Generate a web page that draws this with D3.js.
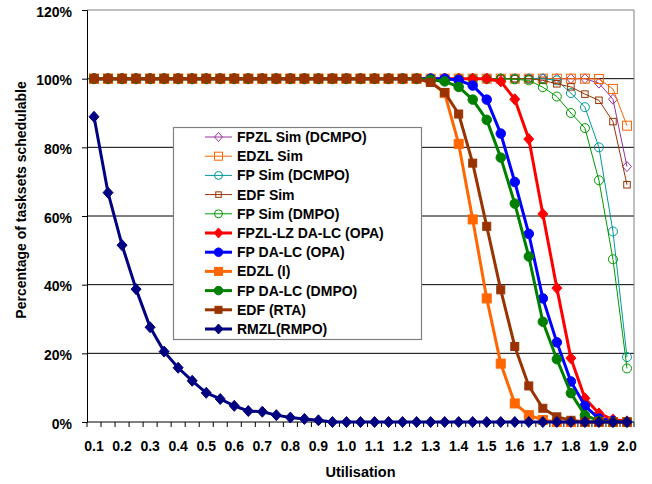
<!DOCTYPE html>
<html><head><meta charset="utf-8">
<script src="https://cdn.jsdelivr.net/npm/d3@7"></script>
<style>body{margin:0;background:#fff}svg{display:block;font-family:"Liberation Sans",Arial,sans-serif;font-weight:bold}</style>
</head><body><svg id="c" width="652" height="484"></svg>
<script>
const categories = ["0.1","0.15","0.2","0.25","0.3","0.35","0.4","0.45","0.5","0.55","0.6","0.65","0.7","0.75","0.8","0.85","0.9","0.95","1.0","1.05","1.1","1.15","1.2","1.25","1.3","1.35","1.4","1.45","1.5","1.55","1.6","1.65","1.7","1.75","1.8","1.85","1.9","1.95","2.0"];
const tickLabels = ["0.1","0.2","0.3","0.4","0.5","0.6","0.7","0.8","0.9","1.0","1.1","1.2","1.3","1.4","1.5","1.6","1.7","1.8","1.9","2.0"];
const yTicks = [0,20,40,60,80,100,120];
// 0.1 .. 1.25 all 100% for these series; values below cover 1.3 .. 2.0
const full24 = [100,100,100,100,100,100,100,100,100,100,100,100,100,100,100,100,100,100,100,100,100,100,100,100];
const fpzlSim   = full24.concat([100,100,100,100,100,100,100,100,100,100,100,100,98.7,94,74.4]);
const edzlSim   = full24.concat([100,100,100,100,100,100,100,100,100,100,100,100,99.9,97,86.3]);
const fpSimDCMPO= full24.concat([100,100,100,100,100,100,100,100,100,99.5,95.8,91.7,80,55.5,18.9]);
const edfSim    = full24.concat([100,100,100,100,100,100,100,100,99.5,98.5,97.6,95.5,93.7,87.5,69.1]);
const fpSimDMPO = full24.concat([100,100,100,100,100,100,99.8,99.5,97.5,94.8,90,85.6,70.4,47.4,15.6]);
const fpzlDALC  = full24.concat([100,100,100,100,100,99.2,94,82.4,60.6,39,18.6,6.9,2.5,0.7,0.2]);
const fpDALCOPA = full24.concat([100,100,99.6,98,93.9,84,69.9,54.8,36,23.2,11.8,4.7,1,0.3,0]);
const edzlI     = full24.concat([99.2,95.8,81,59,36,17,5.4,2,0.6,0,0,0,0,0,0]);
const fpDALCDMPO= full24.concat([99.7,99.2,97.6,93.9,88,77,63.6,48.2,29.2,18.3,8.4,2,0.3,0,0]);
const edfRTA    = full24.concat([98.9,96,89.7,75.4,57,38.5,22,10.5,4,1.5,0.5,0,0,0,0]);
const rmzl = [88.9,66.8,51.5,38.7,27.6,20.5,15.8,12.0,8.5,6.7,4.7,3.2,3.0,2.0,1.3,0.9,0.5,0,0,0,0,0,0,0,0,0,0,0,0,0,0,0,0,0,0,0,0,0,0];
const seriesNames = ["FPZL Sim (DCMPO)","EDZL Sim","FP Sim (DCMPO)","EDF Sim","FP Sim (DMPO)","FPZL-LZ DA-LC (OPA)","FP DA-LC (OPA)","EDZL (I)","FP DA-LC (DMPO)","EDF (RTA)","RMZL(RMPO)"];
const seriesValues = [fpzlSim,edzlSim,fpSimDCMPO,edfSim,fpSimDMPO,fpzlDALC,fpDALCOPA,edzlI,fpDALCDMPO,edfRTA,rmzl];

const styles = [
  {c:"#993399",w:1,m:"diamond",s:9,fill:false},
  {c:"#FF6600",w:1,m:"square",s:9,fill:false},
  {c:"#009999",w:1,m:"circle",s:9,fill:false},
  {c:"#993300",w:1,m:"square",s:6.5,fill:false},
  {c:"#009900",w:1,m:"circle",s:9,fill:false},
  {c:"#FF0000",w:3,m:"diamond",s:10,fill:true},
  {c:"#0000FF",w:3,m:"circle",s:9.5,fill:true},
  {c:"#FF6600",w:3,m:"square",s:9,fill:true},
  {c:"#008000",w:3,m:"circle",s:9.5,fill:true},
  {c:"#993300",w:3,m:"square",s:8,fill:true},
  {c:"#000080",w:3,m:"diamond",s:10,fill:true}
];

const FS = 14;
const svg = d3.select("#c");
const L=87,R=634,T=10,B=422;
const x = d3.scaleBand().domain(categories).range([L,R]);
const y = d3.scaleLinear().domain([0,120]).range([B,T]);
const cx = d => x(d)+x.bandwidth()/2;

// gridlines
svg.append("g").selectAll("line").data(yTicks.filter(t=>t>0&&t<120)).join("line")
  .attr("x1",L).attr("x2",R).attr("y1",d=>y(d)).attr("y2",d=>y(d)).attr("stroke","#000").attr("stroke-width",1);
// plot border top/right
svg.append("path").attr("d",`M${L},${y(120)}H${R}V${B}`).attr("fill","none").attr("stroke","#808080").attr("stroke-width",1);

// y axis
const yAxis = d3.axisLeft(y).tickValues(yTicks).tickFormat(d=>d+"%").tickSize(5).tickPadding(10);
const gy = svg.append("g").attr("transform",`translate(${L},0)`).call(yAxis);
gy.select(".domain").attr("stroke","#000");
gy.selectAll("text").attr("font-size",FS).attr("font-weight","bold").attr("fill","#000")
  .attr("font-family","Liberation Sans, Arial").attr("dy","0.45em");

// x axis: ticks at band boundaries
const gx = svg.append("g");
const bounds = categories.map(c=>x(c)).concat([R]);
gx.selectAll("line").data(bounds).join("line").attr("x1",d=>d).attr("x2",d=>d).attr("y1",B).attr("y2",B+5).attr("stroke","#000");
gx.append("line").attr("x1",L).attr("x2",R).attr("y1",B).attr("y2",B).attr("stroke","#000");
gx.selectAll("text").data(tickLabels).join("text").attr("x",d=>cx(d)).attr("y",B+29).attr("text-anchor","middle")
  .attr("font-size",FS).text(d=>d);

// titles
svg.append("text").attr("x",(L+R)/2).attr("y",477).attr("text-anchor","middle").attr("font-size",14.5).text("Utilisation");
svg.append("text").attr("transform",`translate(26,200) rotate(-90)`).attr("text-anchor","middle").attr("font-size",FS).text("Percentage of tasksets schedulable");

function marker(g, st, px, py){
  const s = st.s, h=s/2;
  let el;
  if(st.m==="circle") el = g.append("circle").attr("cx",px).attr("cy",py).attr("r",h);
  else if(st.m==="square") el = g.append("rect").attr("x",px-h).attr("y",py-h).attr("width",s).attr("height",s);
  else el = g.append("path").attr("d",`M${px},${py-h-0.5}L${px+h},${py}L${px},${py+h+0.5}L${px-h},${py}Z`);
  el.attr("fill",st.fill?st.c:"none").attr("stroke",st.c).attr("stroke-width",1);
}

const line = d3.line().x((d,i)=>cx(categories[i])).y(d=>y(d));
seriesValues.forEach((vals,k)=>{
  const st = styles[k];
  const g = svg.append("g");
  g.append("path").attr("d",line(vals)).attr("fill","none").attr("stroke",st.c).attr("stroke-width",st.w).attr("stroke-linejoin","round");
  vals.forEach((v,i)=>marker(g,st,cx(categories[i]),y(v)));
});

// legend
const lg = svg.append("g");
lg.append("rect").attr("x",173.5).attr("y",127.5).attr("width",248).attr("height",212).attr("fill","#fff").attr("stroke","#808080").attr("stroke-width",1.2);
seriesNames.forEach((n,k)=>{
  const st = styles[k];
  const yy = 137 + k*19.2;
  lg.append("line").attr("x1",205).attr("x2",232).attr("y1",yy).attr("y2",yy).attr("stroke",st.c).attr("stroke-width",st.w);
  marker(lg,{...st,s:st.s-1},218.5,yy);
  lg.append("text").attr("x",237).attr("y",yy+5).attr("font-size",FS).text(n);
});
</script></body></html>
